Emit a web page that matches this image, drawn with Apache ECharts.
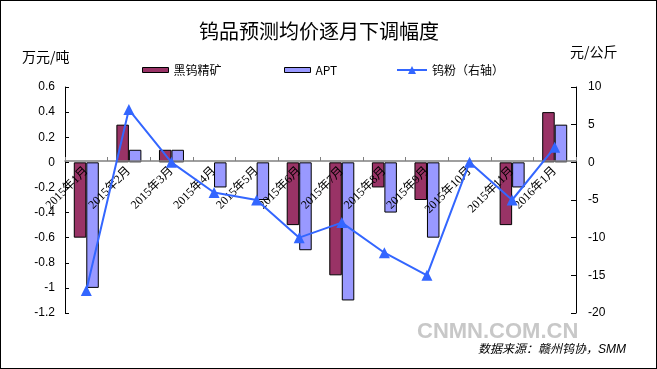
<!DOCTYPE html>
<html><head><meta charset="utf-8">
<script src="https://cdn.jsdelivr.net/npm/echarts@6/dist/echarts.min.js"></script>
<style>html,body{margin:0;padding:0;background:#fff}#c{width:657px;height:369px;box-sizing:border-box;border:1px solid #000}</style>
</head><body><div id="c"></div>
<script>
const categories = ['2015年1月','2015年2月','2015年3月','2015年4月','2015年5月','2015年6月','2015年7月','2015年8月','2015年9月','2015年10月','2015年11月','2016年1月'];
const heiwu = [-0.6, 0.3, 0.1, 0, 0, -0.5, -0.9, -0.2, -0.3, 0, -0.5, 0.4];
const apt = [-1.0, 0.1, 0.1, -0.2, -0.3, -0.7, -1.1, -0.4, -0.6, 0, -0.2, 0.3];
const wufen = [-17, 7, 0, -4, -5, -10, -8, -12, -15, 0, -5, 2];
const leftTicks = {min: -1.2, max: 0.6, interval: 0.2};
const rightTicks = {min: -20, max: 10, interval: 5};

const W = 657, H = 369;
const grid = {left: 64, right: 80, top: 86, bottom: 55};
const plotH = H - grid.top - grid.bottom;
const zeroOffset = -plotH * (0 - leftTicks.min) / (leftTicks.max - leftTicks.min);

const chart = echarts.init(document.getElementById('c'));
const sans = 'Liberation Sans, Arial, Noto Sans CJK SC';
const cjk = 'Noto Sans CJK SC';
const barData = (arr) => arr.map(v => v === 0 ? {value: 0, itemStyle: {borderWidth: 0}} : v);
const legendText = {fontSize: 12, color: '#000', fontFamily: cjk};
chart.setOption({
  animation: false,
  title: {text: '钨品预测均价逐月下调幅度', left: 313, textAlign: 'center', top: 15,
    textStyle: {fontSize: 20, fontWeight: 'normal', color: '#000', fontFamily: cjk}},
  graphic: [
    {type: 'text', left: 21, top: 49, style: {text: '万元/吨', fontSize: 14, fill: '#000', fontFamily: cjk}},
    {type: 'text', left: 569, top: 44, style: {text: '元/公斤', fontSize: 14, fill: '#000', fontFamily: cjk}},
    {type: 'text', left: 416, top: 320, style: {text: 'CNMN.COM.CN', fontSize: 22, fontWeight: 'bold', fill: '#c8c8c8', fontFamily: 'Liberation Sans'}},
    {type: 'text', left: 477, top: 343, style: {text: '数据来源：赣州钨协，SMM', fontSize: 12, fontStyle: 'italic', fill: '#000', fontFamily: 'Liberation Sans, Noto Sans CJK SC'}}
  ],
  legend: [
    {top: 58, left: 136, itemWidth: 26, itemHeight: 5, itemGap: 5, textStyle: legendText,
      data: [{name: '黑钨精矿', icon: 'rect', itemStyle: {borderColor: '#000', borderWidth: 1}}]},
    {top: 58, left: 278, itemWidth: 26, itemHeight: 5, textStyle: legendText,
      data: [{name: 'APT', icon: 'rect', itemStyle: {borderColor: '#000', borderWidth: 1}}]},
    {top: 58, left: 390, itemWidth: 30, itemHeight: 10, textStyle: legendText,
      data: [{name: '钨粉（右轴）'}]}
  ],
  grid: Object.assign({containLabel: false}, grid),
  xAxis: {
    type: 'category', data: categories, boundaryGap: true, offset: zeroOffset, z: 10,
    axisLine: {onZero: false, lineStyle: {color: '#808080', width: 1.5}},
    axisTick: {show: true, inside: true, length: 4, lineStyle: {color: '#808080'}},
    axisLabel: {rotate: 45, interval: 0, fontSize: 12, color: '#000', margin: 8, hideOverlap: false,
      fontFamily: 'Liberation Serif, Noto Sans CJK SC'}
  },
  yAxis: [
    {type: 'value', min: leftTicks.min, max: leftTicks.max, interval: leftTicks.interval,
      axisLine: {show: true, onZero: false, lineStyle: {color: '#000'}},
      axisTick: {show: true, inside: true, length: 4, lineStyle: {color: '#000'}},
      splitLine: {show: false},
      axisLabel: {fontSize: 12, color: '#000', margin: 10, fontFamily: sans,
        formatter: v => String(Math.round(v * 10) / 10)}},
    {type: 'value', min: rightTicks.min, max: rightTicks.max, interval: rightTicks.interval,
      axisLine: {show: true, onZero: false, lineStyle: {color: '#000'}},
      axisTick: {show: true, inside: true, length: 5, lineStyle: {color: '#000'}},
      splitLine: {show: false},
      axisLabel: {fontSize: 12, color: '#000', margin: 12, fontFamily: sans}}
  ],
  series: [
    {name: '黑钨精矿', type: 'bar', data: barData(heiwu), barWidth: 12.5, barGap: '0%', z: 2,
      itemStyle: {color: '#993366', borderColor: '#000', borderWidth: 1}},
    {name: 'APT', type: 'bar', data: barData(apt), barWidth: 12.5, z: 2,
      itemStyle: {color: '#9999FF', borderColor: '#000', borderWidth: 1}},
    {name: '钨粉（右轴）', type: 'line', yAxisIndex: 1, data: wufen, z: 20,
      symbol: 'triangle', symbolSize: 11,
      lineStyle: {color: '#3366FF', width: 2}, itemStyle: {color: '#3366FF'}}
  ]
});
</script></body></html>
